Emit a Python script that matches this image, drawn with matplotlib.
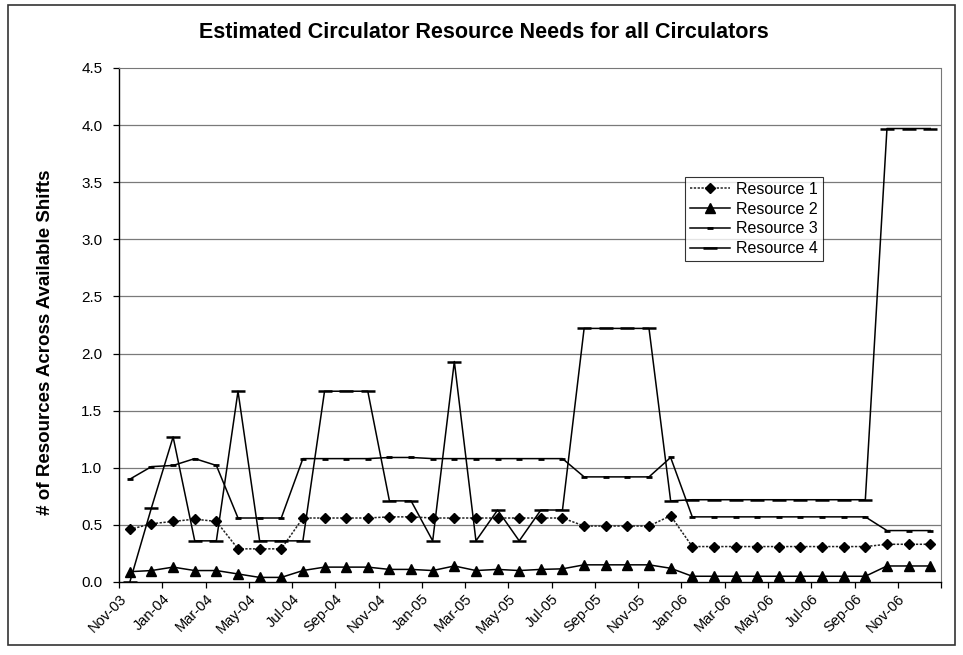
import matplotlib
matplotlib.use("Agg")
import matplotlib.pyplot as plt
from matplotlib.patches import Rectangle

plt.rcParams['font.family'] = ['Liberation Sans', 'DejaVu Sans']

months = ['Nov-03', 'Dec-03', 'Jan-04', 'Feb-04', 'Mar-04', 'Apr-04', 'May-04', 'Jun-04',
          'Jul-04', 'Aug-04', 'Sep-04', 'Oct-04', 'Nov-04', 'Dec-04', 'Jan-05', 'Feb-05',
          'Mar-05', 'Apr-05', 'May-05', 'Jun-05', 'Jul-05', 'Aug-05', 'Sep-05', 'Oct-05',
          'Nov-05', 'Dec-05', 'Jan-06', 'Feb-06', 'Mar-06', 'Apr-06', 'May-06', 'Jun-06',
          'Jul-06', 'Aug-06', 'Sep-06', 'Oct-06', 'Nov-06', 'Dec-06']

resource_1 = [0.46, 0.51, 0.53, 0.55, 0.53, 0.29, 0.29, 0.29, 0.56, 0.56, 0.56, 0.56,
              0.57, 0.57, 0.56, 0.56, 0.56, 0.56, 0.56, 0.56, 0.56, 0.49, 0.49, 0.49,
              0.49, 0.58, 0.31, 0.31, 0.31, 0.31, 0.31, 0.31, 0.31, 0.31, 0.31, 0.33,
              0.33, 0.33]
resource_2 = [0.09, 0.10, 0.13, 0.10, 0.10, 0.07, 0.04, 0.04, 0.10, 0.13, 0.13, 0.13,
              0.11, 0.11, 0.10, 0.14, 0.10, 0.11, 0.10, 0.11, 0.115, 0.15, 0.15, 0.15,
              0.15, 0.12, 0.05, 0.05, 0.05, 0.05, 0.05, 0.05, 0.05, 0.05, 0.05, 0.14,
              0.14, 0.14]
resource_3 = [0.90, 1.01, 1.02, 1.08, 1.02, 0.56, 0.56, 0.56, 1.08, 1.08, 1.08, 1.08,
              1.09, 1.09, 1.08, 1.08, 1.08, 1.08, 1.08, 1.08, 1.08, 0.92, 0.92, 0.92,
              0.92, 1.09, 0.57, 0.57, 0.57, 0.57, 0.57, 0.57, 0.57, 0.57, 0.57, 0.45,
              0.45, 0.45]
resource_4 = [0.00, 0.65, 1.27, 0.36, 0.36, 1.67, 0.36, 0.36, 0.36, 1.67, 1.67, 1.67,
              0.71, 0.71, 0.36, 1.93, 0.36, 0.63, 0.36, 0.63, 0.63, 2.22, 2.22, 2.22,
              2.22, 0.71, 0.72, 0.72, 0.72, 0.72, 0.72, 0.72, 0.72, 0.72, 0.72, 3.97,
              3.97, 3.97]

series_names = ['Resource 1', 'Resource 2', 'Resource 3', 'Resource 4']
y_ticks = [0.0, 0.5, 1.0, 1.5, 2.0, 2.5, 3.0, 3.5, 4.0, 4.5]

fig = plt.figure(figsize=(9.63, 6.55), dpi=100)
ax = fig.add_axes([0.1236, 0.1115, 0.8536, 0.7847])

x = list(range(len(months)))

ax.plot(x, resource_1, color='#222222', lw=1.1, ls=(0, (1.5, 1)), marker='D',
        ms=5, mfc='black', mec='black', label=series_names[0], zorder=4)
ax.plot(x, resource_2, color='black', lw=1.1, marker='^', ms=7,
        mfc='black', mec='black', label=series_names[1], zorder=4)
ax.plot(x, resource_3, color='black', lw=1.1, marker='_', ms=5, mew=2,
        mec='black', label=series_names[2], zorder=4)
ax.plot(x, resource_4, color='black', lw=1.1, marker='_', ms=10, mew=1.8,
        mec='black', label=series_names[3], zorder=4)

ax.set_xlim(-0.5, len(months) - 0.5)
ax.set_ylim(0, 4.5)

# y axis
ax.set_yticks(y_ticks)
ax.set_yticklabels([f'{v:.1f}' for v in y_ticks], fontsize=11)
for v in y_ticks[1:-1]:
    ax.axhline(v, color='#7a7a7a', lw=0.9, zorder=1)

# category axis: ticks every two months at category boundaries
tick_pos = [i - 0.5 for i in range(0, len(months), 2)] + [len(months) - 0.5]
ax.set_xticks(tick_pos)
ax.set_xticklabels([months[i] for i in range(0, len(months), 2)] + [''],
                   rotation=45, ha='right', rotation_mode='anchor', fontsize=10.5)
ax.tick_params(axis='x', direction='out', length=4, width=0.9, pad=3)
ax.tick_params(axis='y', direction='out', length=4, width=0.9, pad=8)

for side in ('left', 'bottom'):
    ax.spines[side].set_color('black')
    ax.spines[side].set_linewidth(1.0)
for side in ('top', 'right'):
    ax.spines[side].set_color('#777777')
    ax.spines[side].set_linewidth(0.8)
    ax.spines[side].set_linestyle((0, (1, 1)))

leg = ax.legend(loc='upper left', bbox_to_anchor=(0.6886, 0.788), fontsize=11.5,
                frameon=True, fancybox=False, shadow=False, handlelength=2.5,
                borderpad=0.3, labelspacing=0.3, handletextpad=0.4,
                borderaxespad=0)
leg.get_frame().set_edgecolor('black')
leg.get_frame().set_linewidth(0.8)

fig.text(0.5025, 1 - 32 / 655, 'Estimated Circulator Resource Needs for all Circulators',
         ha='center', va='center', fontsize=15.5, fontweight='bold')
fig.text(45 / 963, 1 - 342 / 655, '# of Resources Across Available Shifts',
         ha='center', va='center', rotation=90, fontsize=13.5, fontweight='bold')

fig.patches.append(Rectangle((8 / 963, 1 - 645 / 655), 947 / 963, 640 / 655,
                             transform=fig.transFigure, fill=False,
                             edgecolor='#333333', lw=1.2))

fig.savefig('out.png', dpi=100, facecolor='white')
